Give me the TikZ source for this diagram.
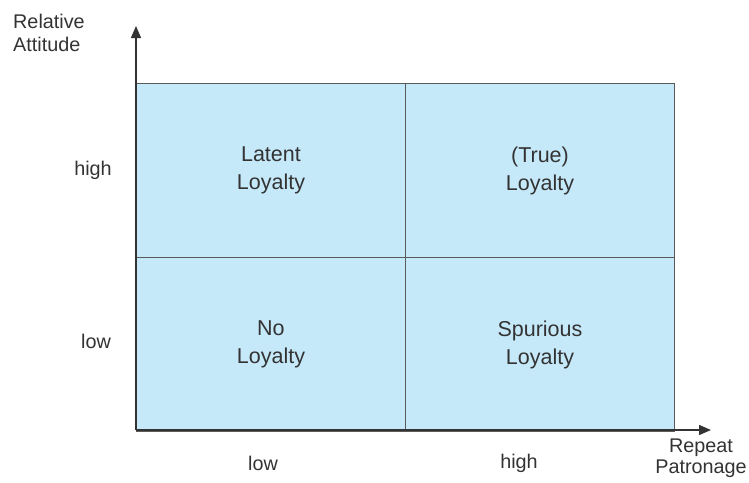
\documentclass[tikz,border=0pt]{standalone}
\usepackage{fontspec}
\setmainfont{Liberation Sans}
\usetikzlibrary{arrows.meta}
\definecolor{quadfill}{HTML}{C6E9FA}
\definecolor{linegray}{HTML}{5A5A5A}
\definecolor{axisgray}{HTML}{333333}
\definecolor{txtgray}{HTML}{333333}
\tikzset{
  quad/.style={draw=linegray, line width=0.9pt, fill=quadfill, minimum width=269pt, minimum height=174pt, inner sep=0pt, anchor=north west,
    font=\fontsize{21.5}{28}\selectfont, text=txtgray, align=center},
  axis/.style={draw=axisgray, line width=1.4pt, -{Triangle[length=12pt,width=10pt]}},
  lbl/.style={font=\fontsize{19.8}{22}\selectfont, text=txtgray, inner sep=0pt},
}
\begin{document}
\begin{tikzpicture}[x=1pt,y=-1pt]
\useasboundingbox (0,0) rectangle (749,482);
\node[quad] (q1) at (136,83) {Latent\\Loyalty};
\node[quad] (q2) at (405,83) {(True)\\Loyalty};
\node[quad] (q3) at (136,257) {No\\Loyalty};
\node[quad] (q4) at (405,257) {Spurious\\Loyalty};
\coordinate (origin) at (136,430);
\coordinate (ytip) at (136,26);
\coordinate (xtip) at (711,430);
\draw[axis] (origin) -- (ytip);
\draw[axis] (origin) -- (xtip);
\node[lbl, anchor=north west, align=left] (ytitle) at (13,14) {Relative\\[1pt]Attitude};
\node[lbl, anchor=north, align=center] (xtitle) at (701,439) {Repeat\\[-1pt]Patronage};
\node[lbl] (yhigh) at (93,170) {high};
\node[lbl] (ylow) at (96,341) {low};
\node[lbl] (xlow) at (263,463) {low};
\node[lbl] (xhigh) at (519,463) {high};
\end{tikzpicture}
\end{document}
